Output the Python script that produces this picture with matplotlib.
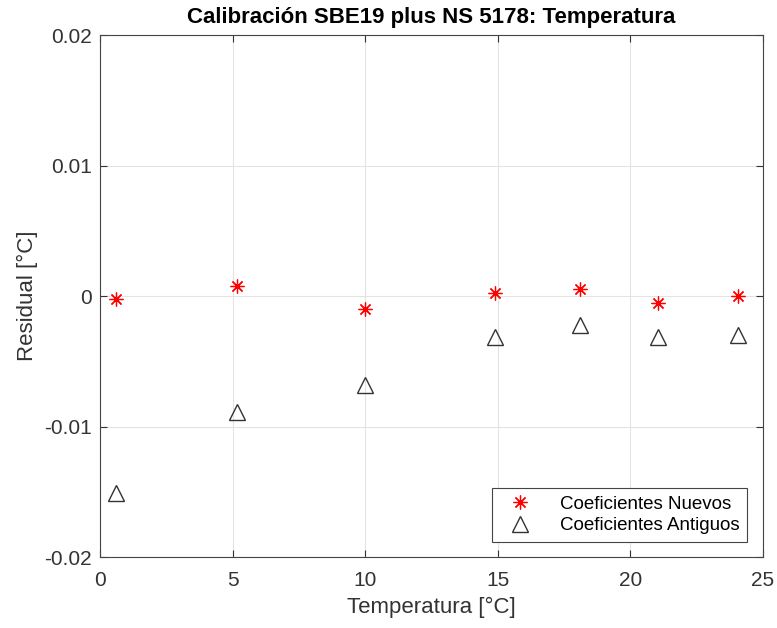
import matplotlib.pyplot as plt

plt.rcParams['font.family'] = ['Liberation Sans', 'DejaVu Sans']

# Residuales de calibracion
temp_nuevos = [0.6, 5.15, 10.0, 14.9, 18.1, 21.05, 24.05]
res_nuevos = [-0.00025, 0.0008, -0.001, 0.00025, 0.00053, -0.0005, 0.0]

temp_antiguos = [0.6, 5.15, 10.0, 14.9, 18.1, 21.05, 24.05]
res_antiguos = [-0.0151, -0.0089, -0.0068, -0.0031, -0.0022, -0.0031, -0.0030]

xticks = [0, 5, 10, 15, 20, 25]
yticks = [-0.02, -0.01, 0, 0.01, 0.02]
ytick_labels = ['-0.02', '-0.01', '0', '0.01', '0.02']

ink = '#333333'

fig = plt.figure(figsize=(7.77, 6.28), dpi=100)
ax = fig.add_axes([0.1287, 0.113, 0.853, 0.831])

# asterisco tipo MATLAB
ax.plot(temp_nuevos, res_nuevos, linestyle='none', marker=(8, 2, 0),
        color='red', markersize=10, markeredgewidth=0.9,
        label='Coeficientes Nuevos')
ax.plot(temp_antiguos, res_antiguos, '^', color=ink, markerfacecolor='none',
        markersize=11, markeredgewidth=1.0, label='Coeficientes Antiguos')

ax.set_xlim(0, 25)
ax.set_ylim(-0.02, 0.02)
ax.set_xticks(xticks)
ax.set_yticks(yticks)
ax.set_yticklabels(ytick_labels)
ax.grid(True, color='#e3e3e3', linewidth=0.8)
ax.set_axisbelow(True)
ax.tick_params(direction='in', top=True, right=True, labelsize=15,
               colors=ink, length=5, width=0.8, pad=6)
ax.tick_params(axis='x', pad=10)
for s in ax.spines.values():
    s.set_color('#444444')
    s.set_linewidth(0.8)

ax.set_xlabel('Temperatura [°C]', fontsize=16, color=ink, labelpad=5)
ax.set_ylabel('Residual [°C]', fontsize=16, color=ink, labelpad=4)
ax.set_title('Calibración SBE19 plus NS 5178: Temperatura', fontsize=16,
             fontweight='bold', color='black', pad=9)

leg = ax.legend(loc='lower right', bbox_to_anchor=(0.976, 0.029),
                fontsize=13.5, fancybox=False, framealpha=1,
                edgecolor='#444444', borderaxespad=0, handletextpad=1.0,
                handlelength=2.2, borderpad=0.4, labelspacing=0.25)
leg.get_frame().set_linewidth(0.8)

fig.savefig('out.png', dpi=100)
